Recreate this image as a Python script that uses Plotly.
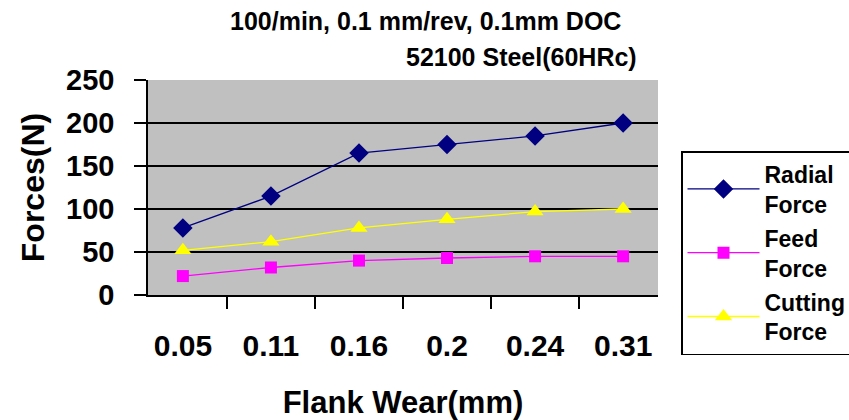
import plotly.graph_objects as go

categories = ["0.05", "0.11", "0.16", "0.2", "0.24", "0.31"]
radial = [78, 115, 165, 175, 185, 200]
feed = [22, 32, 40, 43, 45, 45]
cutting = [52, 62, 78, 88, 97, 100]
y_ticks = [0, 50, 100, 150, 200, 250]

FONT = "Liberation Sans"

fig = go.Figure()
fig.add_trace(go.Scatter(x=categories, y=radial, mode="lines+markers", name="Radial<br>Force",
                         legendgroup="a",
                         line=dict(color="#000080", width=1.3),
                         marker=dict(symbol="diamond", size=15, color="#000080")))
fig.add_trace(go.Scatter(x=categories, y=feed, mode="lines+markers", name="Feed<br>Force",
                         legendgroup="b",
                         line=dict(color="#FF00FF", width=1.3),
                         marker=dict(symbol="square", size=12, color="#FF00FF")))
fig.add_trace(go.Scatter(x=categories, y=cutting, mode="lines+markers", name="Cutting<br>Force",
                         legendgroup="c",
                         line=dict(color="#FFFF00", width=1.3),
                         marker=dict(symbol="triangle-up", size=15, color="#FFFF00")))

fig.update_layout(
    width=849, height=420,
    margin=dict(l=148, r=191, t=80, b=125, autoexpand=False),
    paper_bgcolor="white", plot_bgcolor="#C0C0C0",
    font=dict(family=FONT, color="black"),
    showlegend=True,
    legend=dict(x=(681 - 148) / 510, y=(295 - 151) / 215, xanchor="left", yanchor="top",
                bgcolor="white", bordercolor="black", borderwidth=1.5,
                font=dict(family=FONT, size=23, color="black", weight="bold"),
                tracegroupgap=1, itemwidth=72, maxheight=400),
    annotations=[
        dict(text="<b>100/min, 0.1 mm/rev, 0.1mm DOC</b>", xref="paper", yref="paper",
             x=(425 - 148) / 510, y=(295 - 21) / 215, xanchor="center", yanchor="middle",
             showarrow=False, font=dict(family=FONT, size=25)),
        dict(text="<b>52100 Steel(60HRc)</b>", xref="paper", yref="paper",
             x=(639 - 148) / 510, y=(295 - 57) / 215, xanchor="right", yanchor="middle",
             showarrow=False, font=dict(family=FONT, size=25)),
    ],
)

fig.update_xaxes(
    type="category", categoryorder="array", categoryarray=categories,
    tickson="boundaries", ticks="outside", ticklen=12, tickcolor="black", tickwidth=1.5,
    showline=True, linecolor="black", linewidth=1.5, showgrid=False, automargin=False,
    tickfont=dict(family=FONT, size=30, weight="bold"),
    ticklabelstandoff=23,
    title=dict(text="<b>Flank Wear(mm)</b>", font=dict(family=FONT, size=31), standoff=36),
)
fig.update_yaxes(
    range=[0, 250], tickvals=y_ticks, ticks="outside", ticklen=12, tickcolor="black", tickwidth=1.5,
    showline=True, linecolor="black", linewidth=1.5, automargin=False,
    showgrid=True, gridcolor="black", gridwidth=1.8, zeroline=False,
    tickfont=dict(family=FONT, size=29, weight="bold"),
    ticklabelstandoff=14,
    title=dict(text="<b>Forces(N)</b>", font=dict(family=FONT, size=32), standoff=12),
)

fig.write_html("out.html")
